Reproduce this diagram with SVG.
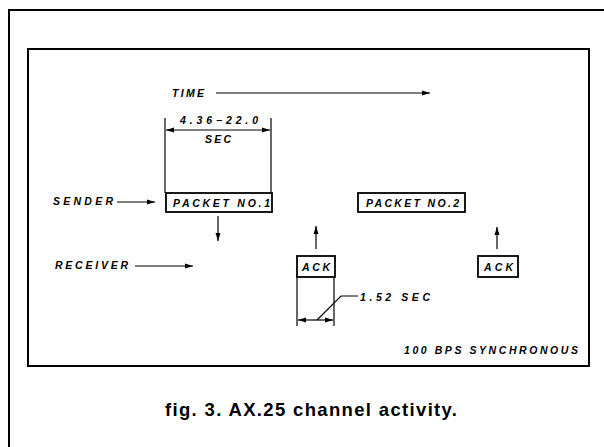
<svg xmlns="http://www.w3.org/2000/svg" width="604" height="447" viewBox="0 0 604 447">
<defs>
<style>
.frame{fill:none;stroke:#000;stroke-width:2}
.ln{fill:none;stroke:#000;stroke-width:1.2}
.box{fill:#fff;stroke:#000;stroke-width:1.8}
.lbl{font-family:"Liberation Sans",Arial,sans-serif;font-style:italic;font-weight:bold;font-size:10.5px;fill:#000}
.cap{font-family:"Liberation Sans",Arial,sans-serif;font-weight:bold;font-size:18.5px;fill:#000}
</style>
<marker id="ah" viewBox="0 0 8 6" refX="8" refY="3" markerWidth="8" markerHeight="6" markerUnits="userSpaceOnUse" orient="auto">
<path d="M0,0.5 L8,3 L0,5.5 Z" fill="#000"/>
</marker>
</defs>
<rect width="604" height="447" fill="#fff"/>
<path class="frame" d="M9,447 V10 H604"/>
<rect class="frame" x="28" y="49" width="561" height="317"/>

<g id="connectors">
<line class="ln" x1="216" y1="93" x2="430" y2="93" marker-end="url(#ah)"/>
<line class="ln" x1="165" y1="118" x2="165" y2="193"/>
<line class="ln" x1="271" y1="118" x2="271" y2="193"/>
<line class="ln" x1="218" y1="130" x2="166" y2="130" marker-end="url(#ah)"/>
<line class="ln" x1="218" y1="130" x2="270" y2="130" marker-end="url(#ah)"/>
<line class="ln" x1="117" y1="202" x2="155" y2="202" marker-end="url(#ah)"/>
<line class="ln" x1="218" y1="216" x2="218" y2="241" marker-end="url(#ah)"/>
<line class="ln" x1="135" y1="266" x2="193" y2="266" marker-end="url(#ah)"/>
<line class="ln" x1="316" y1="249" x2="316" y2="226" marker-end="url(#ah)"/>
<line class="ln" x1="497" y1="249" x2="497" y2="227" marker-end="url(#ah)"/>
<line class="ln" x1="297" y1="277" x2="297" y2="326"/>
<line class="ln" x1="334" y1="277" x2="334" y2="326"/>
<line class="ln" x1="316" y1="320" x2="298" y2="320" marker-end="url(#ah)"/>
<line class="ln" x1="316" y1="320" x2="333" y2="320" marker-end="url(#ah)"/>
<path class="ln" d="M317,320 L341,296 H358"/>
</g>

<text class="lbl" x="172" y="97" textLength="32" lengthAdjust="spacing">TIME</text>
<text class="lbl" x="180" y="124" textLength="78" lengthAdjust="spacing">4.36−22.0</text>
<text class="lbl" x="205" y="143" textLength="26" lengthAdjust="spacing">SEC</text>
<text class="lbl" x="53" y="205" textLength="60" lengthAdjust="spacing">SENDER</text>
<text class="lbl" x="55" y="269" textLength="73" lengthAdjust="spacing">RECEIVER</text>

<g id="packet1">
<rect class="box" x="166" y="193" width="106" height="19"/>
<text class="lbl" x="173" y="207" textLength="97" lengthAdjust="spacing">PACKET NO.1</text>
</g>
<g id="packet2">
<rect class="box" x="358" y="193" width="107" height="19"/>
<text class="lbl" x="366" y="207" textLength="93" lengthAdjust="spacing">PACKET NO.2</text>
</g>
<g id="ack1">
<rect class="box" x="297" y="256" width="38" height="21"/>
<text class="lbl" x="302" y="271" textLength="28" lengthAdjust="spacing">ACK</text>
</g>
<g id="ack2">
<rect class="box" x="478" y="256" width="40" height="21"/>
<text class="lbl" x="484" y="271" textLength="29" lengthAdjust="spacing">ACK</text>
</g>

<text class="lbl" x="360" y="301" textLength="70" lengthAdjust="spacing">1.52 SEC</text>
<text class="lbl" x="404" y="354" textLength="174" lengthAdjust="spacing">100 BPS SYNCHRONOUS</text>
<text class="cap" x="165" y="416" textLength="292" lengthAdjust="spacing">fig. 3. AX.25 channel activity.</text>
</svg>
